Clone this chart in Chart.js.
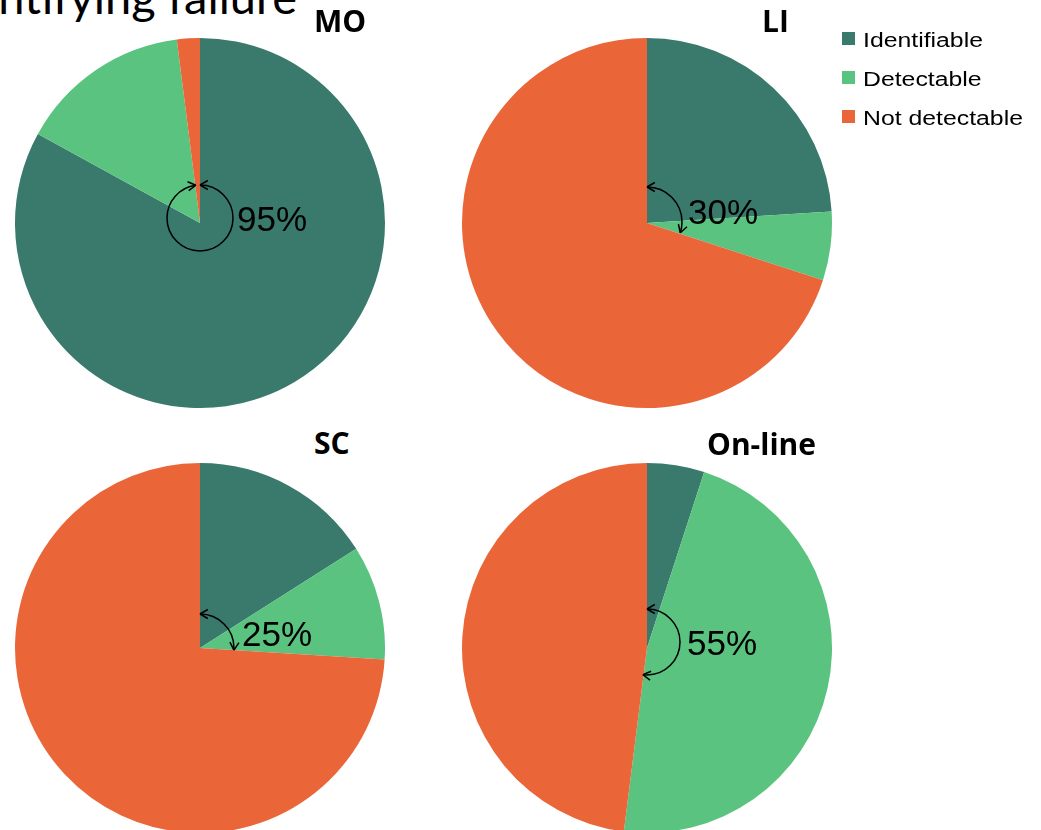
<!DOCTYPE html>
<html>
<head>
<meta charset="utf-8">
<script src="https://cdn.jsdelivr.net/npm/chart.js@4.4.1/dist/chart.umd.min.js"></script>
<style>
  body { margin: 0; background: #fff; }
  #wrap { position: relative; width: 1041px; height: 830px; overflow: hidden; }
  #wrap canvas { position: absolute; }
  .heading { position: absolute; right: 744px; top: -27px; font-family: Lato, sans-serif; font-size: 47px; line-height: 1; white-space: nowrap; color: #000; }
  .title { position: absolute; font-family: "Open Sans", sans-serif; font-weight: bold; font-size: 30px; line-height: 1; color: #000; }
  .legend { position: absolute; left: 842px; top: 30px; font-family: "Liberation Sans", Arial, sans-serif; font-size: 20px; line-height: 1; }
  .legend div { position: relative; height: 39px; padding-left: 21px; white-space: nowrap; }
  .legend span { position: absolute; left: 0; top: 2px; width: 13px; height: 13px; }
  .legend i { font-style: normal; display: inline-block; transform: scaleX(1.24); transform-origin: left center; }
</style>
</head>
<body>
<div id="wrap">
  <div class="heading">Identifying failure</div>
  <canvas id="moChart" width="370" height="370" style="left:15px;top:38px"></canvas>
  <canvas id="liChart" width="370" height="370" style="left:462px;top:38px"></canvas>
  <canvas id="scChart" width="370" height="370" style="left:15px;top:463px"></canvas>
  <canvas id="onlineChart" width="370" height="370" style="left:462px;top:463px"></canvas>
  <div class="title" id="t0" style="left:314px;top:6px"></div>
  <div class="title" id="t1" style="left:762px;top:6px"></div>
  <div class="title" id="t2" style="left:314px;top:428px"></div>
  <div class="title" id="t3" style="left:707px;top:429px"></div>
  <div class="legend" id="legend"></div>
</div>
<script>
var categories = ['Identifiable', 'Detectable', 'Not detectable'];
var chartTitles = ['MO', 'LI', 'SC', 'On-line'];
var moValues = [83, 15, 2];
var liValues = [24, 6, 70];
var scValues = [16, 10, 74];
var onlineValues = [5, 47, 48];
var pctLabels = ['95%', '30%', '25%', '55%'];
var colors = ['#397A6C', '#5AC37F', '#EA6638'];

// titles + legend
chartTitles.forEach(function (t, i) {
    document.getElementById('t' + i).textContent = t;
});
var legendEl = document.getElementById('legend');
categories.forEach(function (c, i) {
    var row = document.createElement('div');
    var box = document.createElement('span');
    var txt = document.createElement('i');
    box.style.background = colors[i];
    txt.textContent = c;
    row.appendChild(box);
    row.appendChild(txt);
    legendEl.appendChild(row);
});

function drawHead(ctx, x, y, dx, dy, size) {
    var a = Math.PI / 6;
    ctx.beginPath();
    [a, -a].forEach(function (s) {
        var rx = dx * Math.cos(s) - dy * Math.sin(s);
        var ry = dx * Math.sin(s) + dy * Math.cos(s);
        ctx.moveTo(x, y);
        ctx.lineTo(x - rx * size, y - ry * size);
    });
    ctx.stroke();
}

// curved double arrow over identifiable + detectable, with the % label
var arrowPlugin = {
    id: 'arrowNote',
    afterDraw: function (chart, args, opts) {
        var ctx = chart.ctx;
        var el = chart.getDatasetMeta(0).data[0];
        var vals = chart.data.datasets[0].data;
        var total = vals.reduce(function (a, b) { return a + b; }, 0);
        var theta = (vals[0] + vals[1]) / total * Math.PI * 2;
        var cx = el.x, cy = el.y + opts.dy, r = opts.r;

        ctx.save();
        ctx.strokeStyle = '#000';
        ctx.lineWidth = 1.5;
        ctx.beginPath();
        ctx.arc(cx, cy, r, -Math.PI / 2, -Math.PI / 2 + theta, false);
        ctx.stroke();
        drawHead(ctx, cx, cy - r, -1, 0, 9);
        drawHead(ctx, cx + r * Math.sin(theta), cy - r * Math.cos(theta), Math.cos(theta), Math.sin(theta), 9);

        ctx.fillStyle = '#000';
        ctx.font = '35px "Liberation Sans", Arial, sans-serif';
        ctx.textBaseline = 'alphabetic';
        ctx.fillText(opts.label, el.x + opts.tx, el.y + opts.ty);
        ctx.restore();
    }
};

function makePie(id, values, note) {
    return new Chart(document.getElementById(id), {
        type: 'pie',
        data: {
            labels: categories,
            datasets: [{
                data: values,
                backgroundColor: colors,
                borderWidth: 0,
                hoverOffset: 0
            }]
        },
        options: {
            responsive: false,
            animation: false,
            layout: { padding: 0 },
            plugins: {
                legend: { display: false },
                tooltip: { enabled: false },
                arrowNote: note
            }
        },
        plugins: [arrowPlugin]
    });
}

makePie('moChart', moValues, { label: pctLabels[0], r: 33, dy: -5, tx: 37, ty: 7.5 });
makePie('liChart', liValues, { label: pctLabels[1], r: 35, dy: -1, tx: 41, ty: 0.5 });
makePie('scChart', scValues, { label: pctLabels[2], r: 34, dy: 0, tx: 42, ty: -2 });
makePie('onlineChart', onlineValues, { label: pctLabels[3], r: 33, dy: -6, tx: 40, ty: 7 });
</script>
</body>
</html>
